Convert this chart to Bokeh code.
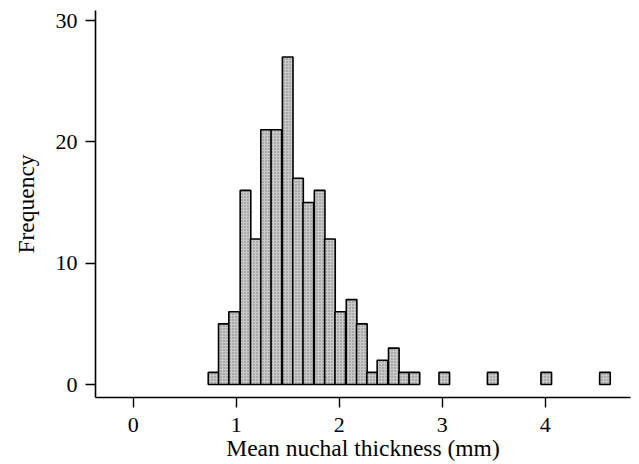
from bokeh.plotting import figure
from bokeh.models import Range1d, FixedTicker
from bokeh.embed import file_html
from bokeh.resources import INLINE

# Histogram of mean nuchal thickness (mm)
bin_centers = [0.78, 0.88, 0.98, 1.09, 1.19, 1.29, 1.39, 1.50, 1.60, 1.70,
               1.81, 1.91, 2.01, 2.12, 2.22, 2.32, 2.42, 2.53, 2.63, 2.73]
counts = [1, 5, 6, 16, 12, 21, 21, 27, 17, 15,
          16, 12, 6, 7, 5, 1, 2, 3, 1, 1]
# isolated outlying bins
outlier_centers = [3.02, 3.49, 4.01, 4.58]
outlier_counts = [1, 1, 1, 1]
bin_width = 0.103

x_ticks = [0, 1, 2, 3, 4]
y_ticks = [0, 10, 20, 30]

FONT = "Liberation Serif"

p = figure(width=632, height=463, output_backend="svg", toolbar_location=None,
           x_range=Range1d(-0.366, 4.828), y_range=Range1d(-1.07, 30.83),
           min_border_left=95, min_border_right=2, min_border_top=10)

all_c = bin_centers + outlier_centers
all_n = counts + outlier_counts
p.quad(left=[c - bin_width / 2 for c in all_c], right=[c + bin_width / 2 for c in all_c],
       bottom=[0] * len(all_n), top=all_n,
       fill_color="#c9c9c9", line_color="black", line_width=1.6,
       hatch_pattern="dot", hatch_color="#7a7a7a", hatch_scale=3, hatch_weight=0.8)

p.xgrid.visible = False
p.ygrid.visible = False
p.outline_line_color = None
p.background_fill_color = "white"
p.border_fill_color = "white"

p.xaxis.ticker = FixedTicker(ticks=x_ticks)
p.yaxis.ticker = FixedTicker(ticks=y_ticks)
p.xaxis.axis_label = "Mean nuchal thickness (mm)"
p.yaxis.axis_label = "Frequency"

for ax in (p.xaxis, p.yaxis):
    ax.axis_line_color = "black"
    ax.axis_line_width = 1.6
    ax.major_tick_line_color = "black"
    ax.major_tick_line_width = 1.4
    ax.major_tick_out = 10
    ax.major_tick_in = 0
    ax.minor_tick_line_color = None
    ax.major_label_text_font = FONT
    ax.major_label_text_font_size = "22px"
    ax.major_label_text_color = "black"
    ax.axis_label_text_font = FONT
    ax.axis_label_text_font_size = "23.5px"
    ax.axis_label_text_font_style = "normal"
    ax.axis_label_text_color = "black"

p.xaxis.major_label_standoff = 10
p.xaxis.axis_label_standoff = 0
p.yaxis.major_label_standoff = 8
p.yaxis.axis_label_standoff = 14

open("out.html", "w").write(file_html(p, INLINE))
